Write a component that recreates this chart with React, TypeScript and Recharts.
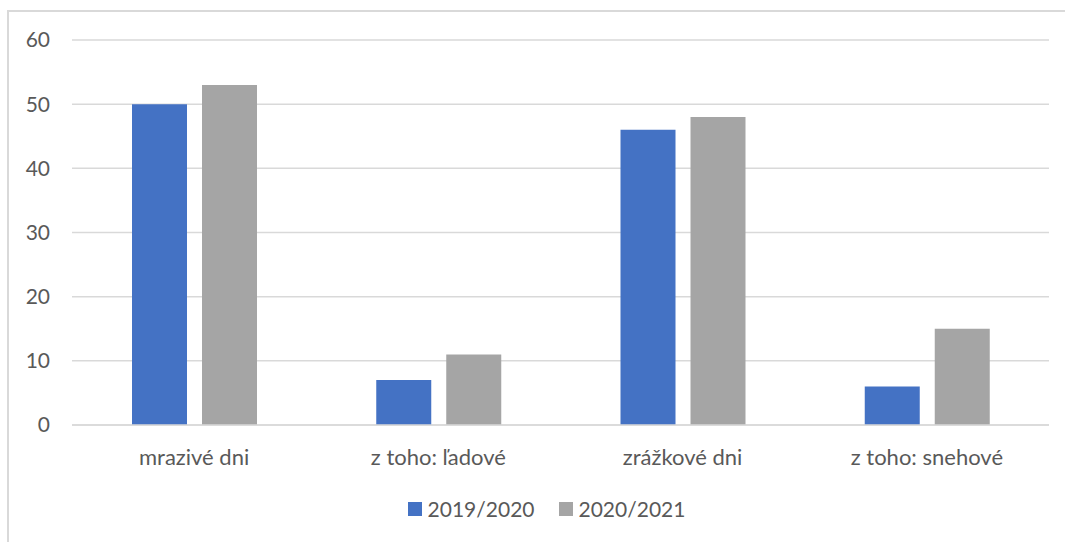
import React from "react";
import { BarChart, Bar, XAxis, YAxis, CartesianGrid, Legend } from "recharts";

const categories = ["mrazivé dni", "z toho: ľadové", "zrážkové dni", "z toho: snehové"];
const season2019 = [50, 7, 46, 6];
const season2020 = [53, 11, 48, 15];
const yTicks = [0, 10, 20, 30, 40, 50, 60];
const seriesNames = ["2019/2020", "2020/2021"];
const colors = ["#4472C4", "#A5A5A5"];

const data = categories.map((c, i) => ({ name: c, a: season2019[i], b: season2020[i] }));

const FONT = "Lato, 'Noto Sans', sans-serif";
const TEXT = "#595959";

const LegendContent = () => (
  <div style={{ display: "flex", justifyContent: "center", gap: 24, fontFamily: FONT, fontSize: 21, color: TEXT }}>
    {seriesNames.map((n, i) => (
      <div key={n} style={{ display: "flex", alignItems: "center", gap: 6 }}>
        <span style={{ display: "inline-block", width: 14, height: 14, background: colors[i] }} />
        <span>{n}</span>
      </div>
    ))}
  </div>
);

export default function App() {
  return (
    <div style={{ position: "absolute", left: 0, top: 0, width: 1065, height: 542, overflow: "hidden", background: "#fff" }}>
      <div style={{ position: "absolute", left: 7, top: 10, width: 1100, height: 600, border: "2px solid #D9D9D9", boxSizing: "border-box" }} />
      <div style={{ position: "absolute", left: 0, top: 0 }}>
        <BarChart
          width={1065}
          height={542}
          data={data}
          margin={{ top: 40, right: 16, left: 8, bottom: 67 }}
          barGap={15}
          barSize={55}
        >
          <CartesianGrid vertical={false} stroke="#D9D9D9" strokeWidth={1.5} />
          <XAxis
            dataKey="name"
            tickLine={false}
            axisLine={{ stroke: "#D9D9D9", strokeWidth: 1.5 }}
            tick={{ fill: TEXT, fontSize: 22, fontFamily: FONT }}
            tickMargin={18}
            height={50}
          />
          <YAxis
            domain={[0, 60]}
            ticks={yTicks}
            tickLine={false}
            axisLine={false}
            width={64}
            tick={{ fill: TEXT, fontSize: 21, fontFamily: FONT }}
            tickMargin={16}
            interval={0}
          />
          <Legend
            layout="horizontal"
            verticalAlign="middle"
            align="center"
            content={<LegendContent />}
            wrapperStyle={{ top: 496, left: 0, width: 1093 }}
          />
          <Bar dataKey="a" name={seriesNames[0]} fill={colors[0]} isAnimationActive={false} />
          <Bar dataKey="b" name={seriesNames[1]} fill={colors[1]} isAnimationActive={false} />
        </BarChart>
      </div>
    </div>
  );
}
